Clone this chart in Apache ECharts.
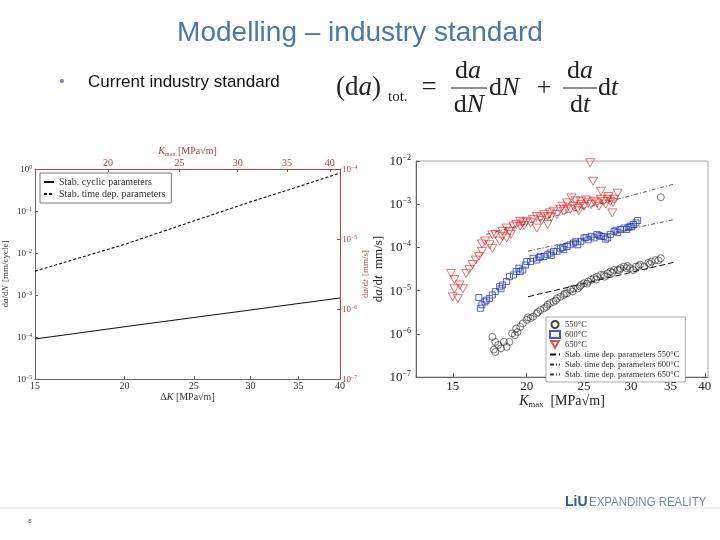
<!DOCTYPE html>
<html><head><meta charset="utf-8">
<script src="https://cdn.jsdelivr.net/npm/echarts@6/dist/echarts.min.js"></script>
<style>html,body{margin:0;padding:0;background:#fff}#c{width:720px;height:540px}</style>
</head><body><div id="c"></div><script>
// ---------- data ----------
const leftTicksDK = [15, 20, 25, 30, 35, 40];
const leftTicksKmax = [20, 25, 30, 35, 40];
const rightTicksK = [15, 20, 25, 30, 35, 40];

// left chart: model curves vs ΔK
const dK = [15, 20, 25, 30, 35, 40];
const cyclicRate = [9.0e-5, 1.75e-4, 2.9e-4, 4.4e-4, 6.3e-4, 8.5e-4];
const timeDepRate = [3.7e-3, 1.6e-2, 5.8e-2, 1.65e-1, 3.8e-1, 8.0e-1];

// right chart: measured da/dt vs Kmax  [Kmax, da/dt]
const pts550 = [[17.7,6.5e-7],[17.7,3.8e-7],[17.9,5.5e-7],[18.1,4.6e-7],[18.3,6.5e-7],[18.5,5.0e-7],[18.7,6.5e-7],[17.5,8.5e-7],[17.6,4.3e-7],
 [18.9,1.02e-6],[19.1,9.3e-7],[19.2,1.32e-6],[19.3,1.1e-6],[19.5,1.45e-6],[19.7,1.74e-6],[20.0,2.1e-6],[20.1,2.4e-6],[20.3,2.3e-6],[20.5,2.5e-6],
 [20.8,2.95e-6],[20.9,3.2e-6],[21.1,3.55e-6],[21.4,3.9e-6],[21.6,4.2e-6],[21.7,4.7e-6],[21.9,5.1e-6],[22.2,5.5e-6],[22.4,5.9e-6],[22.5,6.6e-6],
 [22.8,7.2e-6],[23.1,7.9e-6],[23.2,8.5e-6],[23.4,8.7e-6],[23.7,1.05e-5],[23.9,9.5e-6],[24.0,1.12e-5],[24.4,1.12e-5],[24.6,1.25e-5],[24.7,1.35e-5],
 [25.0,1.48e-5],[25.3,1.45e-5],[25.4,1.62e-5],[25.7,1.78e-5],[26.0,1.95e-5],[26.2,1.8e-5],[26.3,2.1e-5],[26.7,2.3e-5],[27.0,2.3e-5],[27.1,2.1e-5],
 [27.4,2.5e-5],[27.7,2.75e-5],[27.9,2.6e-5],[28.1,3.0e-5],[28.5,3.0e-5],[28.7,3.0e-5],[28.8,3.3e-5],[29.2,3.6e-5],[29.5,3.3e-5],[29.6,3.7e-5],
 [29.9,3.3e-5],[30.3,3.0e-5],[30.6,3.6e-5],[30.9,3.7e-5],[31.1,4.0e-5],[31.6,3.6e-5],[32.1,4.4e-5],[32.3,4.1e-5],[32.5,4.7e-5],[33.0,5.1e-5],
 [33.4,5.0e-5],[33.7,5.6e-5],[33.7,1.45e-3]];
const pts600 = [[16.6,6.9e-6],[16.7,3.9e-6],[16.8,4.7e-6],[17.0,5.5e-6],[17.1,6.0e-6],[17.3,6.6e-6],[17.5,7.9e-6],[17.7,9.5e-6],[18.0,1.23e-5],
 [18.1,1.1e-5],[18.2,1.35e-5],[18.5,1.62e-5],[18.7,2.1e-5],[19.0,2.3e-5],[19.2,2.75e-5],[19.4,3.3e-5],[19.5,2.75e-5],[19.7,3.0e-5],[19.9,3.9e-5],
 [20.0,4.7e-5],[20.3,4.7e-5],[20.5,5.6e-5],[20.8,5.1e-5],[21.0,5.8e-5],[21.1,6.2e-5],[21.4,6.2e-5],[21.7,6.8e-5],[21.9,7.4e-5],[22.0,6.5e-5],
 [22.2,8.1e-5],[22.5,8.1e-5],[22.8,9.5e-5],[23.0,1.0e-4],[23.1,8.9e-5],[23.4,1.05e-4],[23.7,1.15e-4],[24.0,1.26e-4],[24.2,1.35e-4],[24.4,1.15e-4],
 [24.7,1.38e-4],[25.0,1.66e-4],[25.2,1.7e-4],[25.4,1.5e-4],[25.7,1.8e-4],[26.0,1.66e-4],[26.3,2.0e-4],[26.5,1.9e-4],[26.7,1.8e-4],[27.0,1.8e-4],
 [27.2,1.55e-4],[27.4,1.66e-4],[27.7,2.0e-4],[28.1,2.35e-4],[28.3,2.5e-4],[28.5,2.2e-4],[28.8,2.6e-4],[29.2,2.8e-4],[29.5,2.6e-4],[29.7,2.9e-4],
 [29.9,3.1e-4],[30.1,3.0e-4],[30.3,3.4e-4],[30.6,3.7e-4],[30.8,4.2e-4]];
const pts650 = [[14.9,2.5e-5],[15.1,1.1e-5],[15.0,7.2e-6],[15.1,1.8e-5],[15.3,6.6e-6],[15.4,1.35e-5],[15.6,1.1e-5],[15.8,2.5e-5],[16.0,3.1e-5],
 [16.2,4.0e-5],[16.4,5.1e-5],[16.6,6.2e-5],[16.8,1.2e-4],[16.8,8.1e-5],[17.0,1.4e-4],[17.3,1.15e-4],[17.5,1.95e-4],[17.5,9.5e-5],[17.7,2.0e-4],
 [18.0,1.4e-4],[18.2,1.8e-4],[18.2,2.35e-4],[18.5,2.8e-4],[18.5,1.65e-4],[18.7,2.35e-4],[18.8,2.0e-4],[19.0,3.1e-4],[19.2,3.4e-4],[19.5,3.1e-4],
 [19.5,4.0e-4],[19.7,3.7e-4],[19.8,3.2e-4],[20.0,4.0e-4],[20.3,3.7e-4],[20.5,4.4e-4],[20.8,5.2e-4],[20.8,2.8e-4],[21.1,4.8e-4],[21.2,4.2e-4],
 [21.4,5.8e-4],[21.7,5.2e-4],[21.7,3.4e-4],[21.9,6.3e-4],[22.0,5.0e-4],[22.2,6.9e-4],[22.5,5.8e-4],[22.8,7.6e-4],[23.0,9.0e-4],[23.1,6.9e-4],
 [23.4,8.1e-4],[23.4,1.07e-3],[23.7,7.6e-4],[23.8,1.4e-3],[24.0,8.9e-4],[24.2,1.2e-3],[24.4,8.1e-4],[24.5,7.0e-4],[24.7,9.8e-4],[24.7,1.17e-3],
 [25.0,8.9e-4],[25.2,1.25e-3],[25.4,1.07e-3],[25.6,9.1e-3],[25.9,3.4e-3],[25.7,9.8e-4],[26.0,1.17e-3],[26.3,1.07e-3],[26.5,9.0e-4],[26.7,1.3e-3],
 [26.7,2.0e-3],[27.0,1.17e-3],[27.2,1.0e-3],[27.4,1.3e-3],[27.5,1.5e-3],[27.7,1.17e-3],[27.9,6.3e-4],[28.0,1.1e-3],[28.1,1.3e-3],[28.5,1.8e-3]];

// fitted time-dependent lines (end points)
const fit550K = [20.1, 35.4], fit550 = [7.2e-6, 4.5e-5];
const fit600K = [20.1, 35.4], fit600 = [8.2e-5, 4.4e-4];
const fit650K = [17.1, 35.4], fit650 = [2.0e-4, 2.9e-3];

// ---------- chart ----------
const SERIF = "'Liberation Serif','DejaVu Serif',serif";
const SANS = "'Liberation Sans',Arial,sans-serif";
const RED = '#b5403c';
const GRAY = '#666';
const lg = v => Math.log10(v);

function powLabel(v) {
  const e = Math.round(Math.log10(v));
  return '{b|10}{s|' + (e < 0 ? '\u2212' + (-e) : e) + '}';
}
function supRich(fs, color) {
  return {
    b: {fontSize: fs, fontFamily: SERIF, color: color, lineHeight: fs * 1.1, verticalAlign: 'bottom'},
    s: {fontSize: fs * 0.62, fontFamily: SERIF, color: color, lineHeight: fs * 0.55, verticalAlign: 'top'}
  };
}
function nameRich(fs, color) {
  return {
    n: {fontSize: fs, fontFamily: SERIF, color: color, lineHeight: fs * 1.1, verticalAlign: 'top'},
    i: {fontSize: fs, fontFamily: SERIF, fontStyle: 'italic', color: color, lineHeight: fs * 1.1, verticalAlign: 'top'},
    sub: {fontSize: fs * 0.62, fontFamily: SERIF, color: color, lineHeight: fs * 0.8, verticalAlign: 'bottom'}
  };
}
const tickFmt = v => String(Math.round(Math.pow(10, v)));

const chart = echarts.init(document.getElementById('c'));
const TRI = 'path://M0,0 L10,0 L5,9 Z';
const noSym = {opacity: 0};

chart.setOption({
  animation: false,
  backgroundColor: '#fff',
  grid: [
    {left: 35, top: 169, width: 305, height: 210, show: false},
    {left: 416, top: 161, width: 292, height: 216, show: true, borderColor: '#aaa', borderWidth: 1}
  ],
  xAxis: [
    {type: 'value', gridIndex: 0, position: 'bottom', min: lg(15), max: lg(40),
     axisLine: {onZero: false, lineStyle: {color: GRAY, width: 1}},
     axisTick: {inside: true, length: 3, customValues: leftTicksDK.map(lg), lineStyle: {color: GRAY}},
     axisLabel: {customValues: leftTicksDK.map(lg), formatter: tickFmt, fontFamily: SERIF, fontSize: 10, color: '#333', margin: 2},
     splitLine: {show: false},
     name: '{n|\u0394}{i|K}{n| [MPa\u221Am]}', nameLocation: 'middle', nameGap: 12,
     nameTextStyle: {rich: nameRich(10, '#333')}},
    {type: 'value', gridIndex: 0, position: 'top', min: lg(15.92), max: lg(41.3),
     axisLine: {onZero: false, lineStyle: {color: RED, width: 1}},
     axisTick: {inside: true, length: 3, customValues: leftTicksKmax.map(lg), lineStyle: {color: RED}},
     axisLabel: {customValues: leftTicksKmax.map(lg), formatter: tickFmt, fontFamily: SERIF, fontSize: 10, color: RED, margin: 1},
     splitLine: {show: false},
     name: '{i|K}{sub|max}{n| [MPa\u221Am]}', nameLocation: 'middle', nameGap: 9,
     nameTextStyle: {rich: nameRich(10, RED)}},
    {type: 'value', gridIndex: 1, position: 'bottom', min: lg(13), max: lg(40.5),
     axisLine: {onZero: false, lineStyle: {color: GRAY, width: 1}},
     axisTick: {inside: true, length: 4, customValues: rightTicksK.map(lg), lineStyle: {color: GRAY}},
     axisLabel: {customValues: rightTicksK.map(lg), formatter: tickFmt, fontFamily: SERIF, fontSize: 13, color: '#222', margin: 3},
     splitLine: {show: false},
     name: '{i|K}{sub|max}{n|  [MPa\u221Am]}', nameLocation: 'middle', nameGap: 13,
     nameTextStyle: {rich: nameRich(14, '#222')}}
  ],
  yAxis: [
    {type: 'log', gridIndex: 0, position: 'left', min: 1e-5, max: 1, logBase: 10,
     axisLine: {show: true, onZero: false, lineStyle: {color: GRAY, width: 1}},
     axisTick: {show: true, inside: true, length: 3, lineStyle: {color: GRAY}},
     axisLabel: {formatter: powLabel, margin: 3, rich: supRich(9, '#333')},
     splitLine: {show: false},
     name: '{n|d}{i|a}{n|/d}{i|N} {n|[mm/cycle]}', nameLocation: 'middle', nameGap: 22,
     nameTextStyle: {rich: nameRich(9, '#333')}},
    {type: 'log', gridIndex: 0, position: 'right', min: 1e-7, max: 1e-4, logBase: 10,
     axisLine: {show: true, onZero: false, lineStyle: {color: RED, width: 1}},
     axisTick: {show: true, inside: true, length: 3, lineStyle: {color: RED}},
     axisLabel: {formatter: powLabel, margin: 2, rich: supRich(9, RED)},
     splitLine: {show: false},
     name: '{n|d}{i|a}{n|/d}{i|t} {n|[mm/s]}', nameLocation: 'middle', nameGap: 18,
     nameTextStyle: {rich: nameRich(9, RED)}},
    {type: 'log', gridIndex: 1, position: 'left', min: 1e-7, max: 1e-2, logBase: 10,
     axisLine: {show: true, onZero: false, lineStyle: {color: GRAY, width: 1}},
     axisTick: {show: true, inside: true, length: 4, lineStyle: {color: GRAY}},
     axisLabel: {formatter: powLabel, margin: 5, rich: supRich(13, '#222')},
     splitLine: {show: false},
     name: '{n|d}{i|a}{n|/d}{i|t}{n|  mm/s]}', nameLocation: 'middle', nameGap: 26,
     nameTextStyle: {rich: nameRich(13, '#222')}}
  ],
  legend: [
    {left: 40, top: 173, orient: 'vertical', itemGap: 2, itemWidth: 10, itemHeight: 8,
     padding: [4, 6, 4, 3], borderColor: '#555', borderWidth: 0.8, backgroundColor: '#fff',
     textStyle: {fontFamily: SERIF, fontSize: 10, color: '#333'},
     data: [{name: 'Stab. cyclic parameters', itemStyle: noSym}, {name: 'Stab. time dep. parameters', itemStyle: noSym}]},
    {left: 546, top: 317, orient: 'vertical', itemGap: 1, itemWidth: 10, itemHeight: 7,
     padding: [3, 6, 3, 3], borderColor: '#888', borderWidth: 0.7, backgroundColor: '#fff',
     textStyle: {fontFamily: SERIF, fontSize: 8.5, color: '#333'},
     data: ['550\u00B0C', '600\u00B0C', '650\u00B0C',
            {name: 'Stab. time dep. parameters 550\u00B0C', itemStyle: noSym},
            {name: 'Stab. time dep. parameters 600\u00B0C', itemStyle: noSym},
            {name: 'Stab. time dep. parameters 650\u00B0C', itemStyle: noSym}]}
  ],
  series: [
    {name: 'Stab. cyclic parameters', type: 'line', xAxisIndex: 0, yAxisIndex: 0, symbol: 'none', silent: true,
     lineStyle: {color: '#111', width: 1.1}, itemStyle: {color: '#111'},
     data: dK.map((k, i) => [lg(k), cyclicRate[i]])},
    {name: 'Stab. time dep. parameters', type: 'line', xAxisIndex: 0, yAxisIndex: 0, symbol: 'none', silent: true,
     lineStyle: {color: '#111', width: 1.1, type: [3, 2]}, itemStyle: {color: '#111'},
     data: dK.map((k, i) => [lg(k), timeDepRate[i]])},

    {name: '550\u00B0C', type: 'scatter', xAxisIndex: 2, yAxisIndex: 2, symbol: 'circle', symbolSize: 7,
     itemStyle: {color: 'rgba(0,0,0,0)', borderColor: '#151515', borderWidth: 0.7},
     data: pts550.map(p => [lg(p[0]), p[1]])},
    {name: '600\u00B0C', type: 'scatter', xAxisIndex: 2, yAxisIndex: 2, symbol: 'rect', symbolSize: 6,
     itemStyle: {color: 'rgba(0,0,0,0)', borderColor: '#1c2fb5', borderWidth: 0.9},
     data: pts600.map(p => [lg(p[0]), p[1]])},
    {name: '650\u00B0C', type: 'scatter', xAxisIndex: 2, yAxisIndex: 2, symbol: TRI, symbolSize: [9, 8],
     itemStyle: {color: 'rgba(0,0,0,0)', borderColor: '#e0231f', borderWidth: 0.8},
     data: pts650.map(p => [lg(p[0]), p[1]])},

    {name: 'Stab. time dep. parameters 550\u00B0C', type: 'line', xAxisIndex: 2, yAxisIndex: 2, symbol: 'none',
     lineStyle: {color: '#111', width: 1, type: [6, 3]}, itemStyle: {color: '#111'},
     data: fit550K.map((k, i) => [lg(k), fit550[i]])},
    {name: 'Stab. time dep. parameters 600\u00B0C', type: 'line', xAxisIndex: 2, yAxisIndex: 2, symbol: 'none',
     lineStyle: {color: '#333', width: 0.8, type: [4, 2, 1, 2]}, itemStyle: {color: '#333'},
     data: fit600K.map((k, i) => [lg(k), fit600[i]])},
    {name: 'Stab. time dep. parameters 650\u00B0C', type: 'line', xAxisIndex: 2, yAxisIndex: 2, symbol: 'none',
     lineStyle: {color: '#553333', width: 0.8, type: [4, 2, 1, 2]}, itemStyle: {color: '#553333'},
     data: fit650K.map((k, i) => [lg(k), fit650[i]])}
  ],
  graphic: [
    {type: 'text', x: 360, y: 33, style: {text: 'Modelling \u2013 industry standard', fontFamily: SANS, fontSize: 28, fill: '#4a78ab', align: 'center', verticalAlign: 'middle'}},
    {type: 'text', x: 62, y: 82, style: {text: '\u2022', fontFamily: SANS, fontSize: 15, fill: '#7a8fae', align: 'center', verticalAlign: 'middle'}},
    {type: 'text', x: 88, y: 82, style: {text: 'Current industry standard', fontFamily: SANS, fontSize: 17, fill: '#111', verticalAlign: 'middle'}},
    // formula
    {type: 'text', x: 336, y: 88, style: {text: '(d{i|a})', fontFamily: SERIF, fontSize: 27, fill: '#222', verticalAlign: 'middle',
      rich: {i: {fontFamily: SERIF, fontStyle: 'italic', fontSize: 27, fill: '#222'}}}},
    {type: 'text', x: 388, y: 97, style: {text: 'tot.', fontFamily: SERIF, fontSize: 15, fill: '#222', verticalAlign: 'middle'}},
    {type: 'text', x: 429, y: 88, style: {text: '=', fontFamily: SERIF, fontSize: 27, fill: '#222', align: 'center', verticalAlign: 'middle'}},
    {type: 'text', x: 468, y: 71, style: {text: 'd{i|a}', fontFamily: SERIF, fontSize: 26, fill: '#222', align: 'center', verticalAlign: 'middle',
      rich: {i: {fontFamily: SERIF, fontStyle: 'italic', fontSize: 26, fill: '#222'}}}},
    {type: 'line', shape: {x1: 451, y1: 88, x2: 487, y2: 88}, style: {stroke: '#222', lineWidth: 1.2}},
    {type: 'text', x: 469, y: 105, style: {text: 'd{i|N}', fontFamily: SERIF, fontSize: 26, fill: '#222', align: 'center', verticalAlign: 'middle',
      rich: {i: {fontFamily: SERIF, fontStyle: 'italic', fontSize: 26, fill: '#222'}}}},
    {type: 'text', x: 489, y: 88, style: {text: 'd{i|N}', fontFamily: SERIF, fontSize: 26, fill: '#222', verticalAlign: 'middle',
      rich: {i: {fontFamily: SERIF, fontStyle: 'italic', fontSize: 26, fill: '#222'}}}},
    {type: 'text', x: 544, y: 88, style: {text: '+', fontFamily: SERIF, fontSize: 26, fill: '#222', align: 'center', verticalAlign: 'middle'}},
    {type: 'text', x: 580, y: 71, style: {text: 'd{i|a}', fontFamily: SERIF, fontSize: 26, fill: '#222', align: 'center', verticalAlign: 'middle',
      rich: {i: {fontFamily: SERIF, fontStyle: 'italic', fontSize: 26, fill: '#222'}}}},
    {type: 'line', shape: {x1: 563, y1: 88, x2: 597, y2: 88}, style: {stroke: '#222', lineWidth: 1.2}},
    {type: 'text', x: 580, y: 105, style: {text: 'd{i|t}', fontFamily: SERIF, fontSize: 26, fill: '#222', align: 'center', verticalAlign: 'middle',
      rich: {i: {fontFamily: SERIF, fontStyle: 'italic', fontSize: 26, fill: '#222'}}}},
    {type: 'text', x: 598, y: 88, style: {text: 'd{i|t}', fontFamily: SERIF, fontSize: 26, fill: '#222', verticalAlign: 'middle',
      rich: {i: {fontFamily: SERIF, fontStyle: 'italic', fontSize: 26, fill: '#222'}}}},
    // footer
    {type: 'line', shape: {x1: 0, y1: 508, x2: 720, y2: 508}, style: {stroke: '#e6e6e6', lineWidth: 1}},
    {type: 'text', x: 565, y: 502, style: {text: 'LiU', fontFamily: SANS, fontWeight: 'bold', fontSize: 14, fill: '#2d5d94', verticalAlign: 'middle'}},
    {type: 'text', x: 589, y: 502, scaleX: 0.88, style: {text: 'EXPANDING REALITY', fontFamily: SANS, fontSize: 13, fill: '#6f8db0', verticalAlign: 'middle'}},
    {type: 'text', x: 30, y: 521, style: {text: '8', fontFamily: SANS, fontSize: 6, fill: '#555', align: 'center', verticalAlign: 'middle'}}
  ]
});
</script></body></html>
